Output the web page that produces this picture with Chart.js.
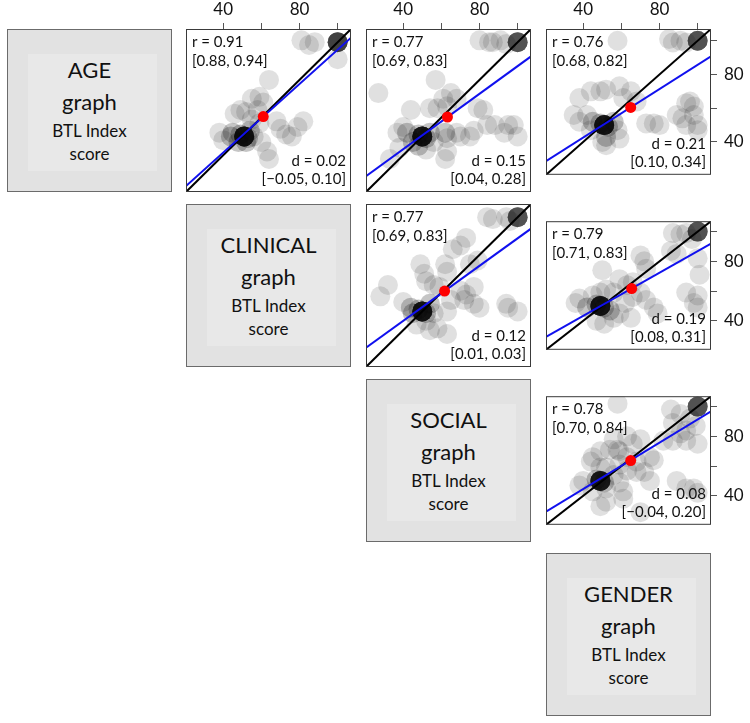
<!DOCTYPE html>
<html>
<head>
<meta charset="utf-8">
<script src="https://cdn.jsdelivr.net/npm/chart.js@4.4.0/dist/chart.umd.min.js"></script>
<style>
  body { margin: 0; background: #fff; font-family: Lato, sans-serif; }
  #wrap { position: relative; width: 750px; height: 723px; overflow: hidden; }
  .cell { position: absolute; }
  .label { position: absolute; box-sizing: border-box; border: 1px solid #6b6b6b; background: #e2e2e2; }
  .label .inner { position: absolute; left: 20px; right: 14px; top: 24px; bottom: 20px; background: #e8e8e8; }
  .label .ln { position: absolute; left: 0; right: 0; text-align: center; color: #111; white-space: nowrap; }
  .label .big { font-size: 22px; height: 28px; line-height: 28px; }
  .label .small { font-size: 17px; height: 22px; line-height: 22px; }
</style>
</head>
<body>
<div id="wrap"></div>
<script>
// variables on the diagonal
const varNames = ['AGE', 'CLINICAL', 'SOCIAL', 'GENDER'];
const subLine1 = 'graph';
const subLine2 = 'BTL Index';
const subLine3 = 'score';

// axis
const axisMin = 20.5, axisMax = 107;
const tickValues = [40, 60, 80, 100];
const tickLabels = [40, 80];

// which panel goes where (row = y variable, col = x variable)
const panelRow = [0, 0, 0, 1, 1, 2];
const panelCol = [1, 2, 3, 2, 3, 3];

// points per panel: [x, y, count]
const ageClinical = [
  [100,100,11],[81,101,1],[85,98.5,1],[88,100,1],[100,91,1],[64,80,1],
  [59,71,1],[55,70,1],[49,64,1],[52,63,1],[46,62,1],[61,68,1],[58,64,1],
  [68,58,1],[59,57,1],[55,59,1],[82,58,1],[79,55,1],[73,51,1],[76,50,1],[70,54,1],
  [51,50,18],[49,51,2],[53,49,2],[45,52,2],[54,53,2],[48,47,2],[44,50,2],[56,50,1],[52,47,2],[38,52,1],[40,48,1],
  [63,42,1],[64,38,1],[60,47,1]
];
const ageSocial = [
  [100,100,9],[80,101,1],[85,100,1],[87,100,1],[91,101,1],[94,99,1],[57,80,1],[27,73,1],
  [65,73,1],[68,70,1],[61,70,1],[44,64,1],[54,65,1],[58,65,1],[63,66,1],[82,64,1],[79,65,1],
  [50,50,18],[48,51,2],[52,49,2],[40,55,1],[42,52,2],[37,52,1],[45,47,2],[54,52,2],[56,47,1],[48,45,2],[52,43,1],
  [62,52,2],[63,49,1],[68,52,1],[70,50,1],[75,50,1],[77,53,1],
  [84,56,1],[88,56,1],[95,56,1],[100,50,1],[93,52,1],[98,56,1],
  [33,38,1],[38,44,1],[62,38,1],[63,42,1]
];
const ageGender = [
  [100,100,9],[58,100,1],[85,101,1],[87,99,1],[91,100,1],[94,99,1],
  [59,73,1],[52,71,1],[49,70,1],[44,70,1],[38,66,1],[65,70,1],[61,66,1],[68,64,1],
  [51,50,18],[49,51,2],[53,49,2],[35,56,1],[42,56,1],[38,52,1],[45,52,2],[44,47,1],[52,43,2],[56,52,2],[58,47,1],
  [50,40,1],[59,42,1],[52,38,1],[73,51,1],[77,51,1],[80,50,1],
  [96,64,1],[94,63,1],[98,61,1],[89,56,1],[92,54,1],[98,56,1],[100,50,1],[94,50,1],[100,47,1]
];
const clinicalSocial = [
  [100,100,9],[84,100,1],[87,99,1],[94,100,1],[96,98,1],[73,89,1],[66,83,1],[70,85,1],
  [79,77,1],[75,75,1],[49,75,1],[51,70,1],[62,75,1],[63,71,1],[32,64,1],[28,58,1],
  [56,64,1],[52,66,1],[59,63,1],[70,61,1],[73,59,1],[77,63,1],[72,56,1],[77,54,1],[80,52,1],
  [50,50,18],[48,51,2],[52,49,2],[40,55,1],[44,52,2],[45,49,2],[54,54,2],[56,49,1],[52,45,1],[47,43,1],[58,41,1],
  [63,50,1],[65,56,1],[94,54,1],[100,50,1],[95,52,1],[54,40,1],[63,38,1]
];
const clinicalGender = [
  [100,100,9],[87,99,1],[91,98,1],[94,99,1],[97,95,1],[86,87,1],[89,85,1],[100,82,1],[101,71,1],
  [73,75,1],[72,80,1],[70,84,1],[50,74,1],[66,66,1],[63,64,1],[59,68,1],
  [49,59,1],[45,57,1],[52,61,1],[56,59,1],
  [49,50,18],[47,51,2],[51,49,2],[38,55,1],[36,52,1],[42,49,2],[54,47,2],[59,45,1],[56,42,1],[47,40,1],[51,38,1],
  [62,52,1],[66,56,1],[70,59,1],[73,54,1],[77,49,1],[79,45,1],
  [94,59,1],[100,57,1],[98,52,1],[100,49,1],[65,42,1]
];
const socialGender = [
  [100,100,9],[58,102,1],[86,98,1],[91,95,1],[87,89,1],[96,92,1],[99,87,1],[94,84,1],
  [91,82,1],[87,77,1],[94,77,1],[100,75,1],[82,77,1],
  [70,78,1],[66,75,1],[63,80,1],[56,78,1],[58,71,1],
  [49,70,1],[54,71,1],[59,70,1],[63,66,1],[68,63,1],[75,66,1],[77,64,1],
  [45,66,1],[44,63,1],[49,59,1],[52,59,1],[59,61,1],[63,57,1],[68,56,1],[72,56,1],[75,50,1],
  [49,50,17],[47,51,2],[51,49,2],[38,47,1],[40,50,1],[45,43,1],[52,45,1],[61,43,1],[59,49,1],[56,54,1],
  [49,33,1],[52,36,1],[61,38,1],[89,50,1],[94,45,1],[98,45,1],[100,42,1],[70,29,1]
];
const panelPoints = [ageClinical, ageSocial, ageGender, clinicalSocial, clinicalGender, socialGender];

// means (red dot) and fitted line (blue)
const meanX = [61, 63.2, 64.9, 61.7, 65.4, 64.9];
const meanY = [60.5, 60.3, 60.5, 60.8, 61.7, 63.7];
const fitSlope = [0.91, 0.735, 0.72, 0.73, 0.725, 0.78];
const fitIntercept = [5.0, 13.8, 13.8, 15.8, 14.3, 13.3];

// annotation text
const rText = ['r = 0.91', 'r = 0.77', 'r = 0.76', 'r = 0.77', 'r = 0.79', 'r = 0.78'];
const rCI = ['[0.88, 0.94]', '[0.69, 0.83]', '[0.68, 0.82]', '[0.69, 0.83]', '[0.71, 0.83]', '[0.70, 0.84]'];
const dText = ['d = 0.02', 'd = 0.15', 'd = 0.21', 'd = 0.12', 'd = 0.19', 'd = 0.08'];
const dCI = ['[\u22120.05, 0.10]', '[0.04, 0.28]', '[0.10, 0.34]', '[0.01, 0.03]', '[0.08, 0.31]', '[\u22120.04, 0.20]'];

// layout
const colLeft = [7, 186, 366, 546];
const rowTop = [29, 204, 379, 553];
const PW = 165, PH = 163, TOPAX = 29, RIGHTAX = 39;

const wrap = document.getElementById('wrap');

// diagonal label boxes
varNames.forEach((name, k) => {
  const box = document.createElement('div');
  box.className = 'label';
  box.style.left = colLeft[k] + 'px';
  box.style.top = rowTop[k] + 'px';
  box.style.width = PW + 'px';
  box.style.height = PH + 'px';
  box.innerHTML =
    '<div class="inner"></div>' +
    '<div class="ln big" style="top:' + (40 - 14) + 'px">' + name + '</div>' +
    '<div class="ln big" style="top:' + (72 - 14) + 'px">' + subLine1 + '</div>' +
    '<div class="ln small" style="top:' + (101 - 11) + 'px">' + subLine2 + '</div>' +
    '<div class="ln small" style="top:' + (124 - 11) + 'px">' + subLine3 + '</div>';
  wrap.appendChild(box);
});

function expand(pts) {
  const out = [];
  pts.forEach(p => { for (let k = 0; k < p[2]; k++) out.push({ x: p[0], y: p[1] }); });
  return out;
}

panelPoints.forEach((pts, i) => {
  const r = panelRow[i], c = panelCol[i];
  const showTop = r === 0, showRight = c === 3;
  const w = PW + (showRight ? RIGHTAX : 0);
  const h = PH + (showTop ? TOPAX : 0);
  const div = document.createElement('div');
  div.className = 'cell';
  div.style.left = colLeft[c] + 'px';
  div.style.top = (rowTop[r] - (showTop ? TOPAX : 0)) + 'px';
  const cv = document.createElement('canvas');
  cv.width = w; cv.height = h;
  cv.style.width = w + 'px'; cv.style.height = h + 'px';
  div.appendChild(cv);
  wrap.appendChild(div);

  const annot = {
    id: 'annot' + i,
    afterDraw(chart) {
      const ctx = chart.ctx, a = chart.chartArea;
      ctx.save();
      ctx.fillStyle = '#111';
      ctx.font = '15px Lato';
      ctx.textBaseline = 'alphabetic';
      ctx.textAlign = 'left';
      ctx.fillText(rText[i], a.left + 6, a.top + 18);
      ctx.fillText(rCI[i], a.left + 6, a.top + 37);
      ctx.textAlign = 'right';
      ctx.fillText(dText[i], a.right - 5, a.bottom - 26);
      ctx.fillText(dCI[i], a.right - 5, a.bottom - 8);
      ctx.strokeStyle = '#3a3a3a';
      ctx.lineWidth = 1;
      ctx.strokeRect(a.left + 0.5, a.top + 0.5, a.right - a.left - 1, a.bottom - a.top - 1);
      ctx.restore();
    }
  };

  new Chart(cv, {
    type: 'scatter',
    data: {
      datasets: [
        { data: [{ x: meanX[i], y: meanY[i] }], pointRadius: 5.5, backgroundColor: '#ff0000', borderWidth: 0, order: 0 },
        { data: [{ x: axisMin, y: fitIntercept[i] + fitSlope[i] * axisMin }, { x: axisMax, y: fitIntercept[i] + fitSlope[i] * axisMax }],
          showLine: true, pointRadius: 0, borderColor: '#1010ee', borderWidth: 2, clip: 0, order: 1 },
        { data: [{ x: axisMin, y: axisMin }, { x: axisMax, y: axisMax }],
          showLine: true, pointRadius: 0, borderColor: '#000', borderWidth: 2, clip: 0, order: 2 },
        { data: expand(pts), pointRadius: 10, backgroundColor: 'rgba(0,0,0,0.12)', borderWidth: 0, clip: 0, order: 3 }
      ]
    },
    options: {
      responsive: false,
      animation: false,
      events: [],
      layout: { padding: 0, autoPadding: false },
      plugins: { legend: { display: false }, tooltip: { enabled: false } },
      scales: {
        x: {
          type: 'linear', position: 'top', display: showTop,
          min: axisMin, max: axisMax,
          afterBuildTicks: s => { s.ticks = tickValues.map(v => ({ value: v })); },
          afterFit: s => { s.height = showTop ? TOPAX : 0; },
          ticks: { callback: v => tickLabels.includes(v) ? String(v) : '', autoSkip: false, maxRotation: 0,
                   font: { family: 'Lato', size: 17 }, color: '#111', padding: 3 },
          grid: { drawOnChartArea: false, drawTicks: true, tickLength: 6, color: '#555' },
          border: { display: false }
        },
        y: {
          type: 'linear', position: 'right', display: showRight,
          min: axisMin, max: axisMax,
          afterBuildTicks: s => { s.ticks = tickValues.map(v => ({ value: v })); },
          afterFit: s => { s.width = showRight ? RIGHTAX : 0; },
          ticks: { callback: v => tickLabels.includes(v) ? String(v) : '', autoSkip: false,
                   font: { family: 'Lato', size: 17 }, color: '#111', padding: 7 },
          grid: { drawOnChartArea: false, drawTicks: true, tickLength: 6, color: '#555' },
          border: { display: false }
        }
      }
    },
    plugins: [annot]
  });
});
</script>
</body>
</html>
